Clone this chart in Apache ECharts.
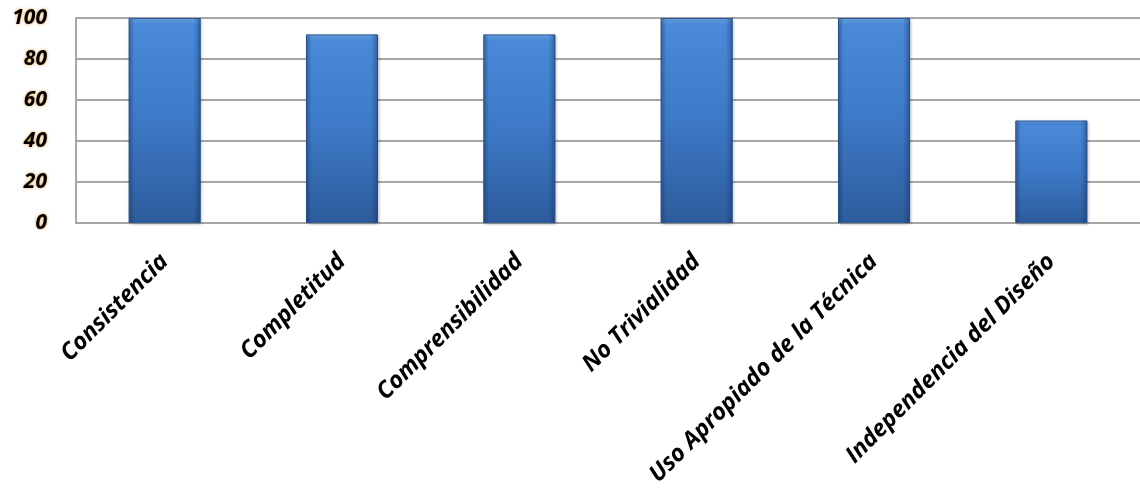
<!DOCTYPE html>
<html>
<head>
<meta charset="utf-8">
<script src="https://cdn.jsdelivr.net/npm/echarts@6/dist/echarts.min.js"></script>
<style>
html,body{margin:0;padding:0;background:#fff;}
#chart{width:1140px;height:490px;}
</style>
</head>
<body>
<div id="chart"></div>
<script>
const categories = ["Consistencia", "Completitud", "Comprensibilidad", "No Trivialidad", "Uso Apropiado de la Técnica", "Independencia del Diseño"];
const values = [100, 92, 92, 100, 100, 50];
const yTicks = { min: 0, max: 100, interval: 20 };

const chart = echarts.init(document.getElementById('chart'));
const lg = (x, y, x2, y2, stops) => new echarts.graphic.LinearGradient(x, y, x2, y2, stops);

chart.setOption({
  animation: false,
  grid: { left: 76, right: -4, top: 18, bottom: 267, containLabel: false },
  xAxis: {
    type: 'category',
    data: categories,
    axisLine: { show: true, lineStyle: { color: '#a6a6a6', width: 2 } },
    axisTick: { show: false },
    axisLabel: {
      rotate: 45,
      interval: 0,
      margin: 35,
      color: '#000',
      fontFamily: 'Open Sans',
      fontStyle: 'italic',
      fontWeight: 'bold',
      fontSize: 23.5
    }
  },
  yAxis: {
    type: 'value',
    min: yTicks.min, max: yTicks.max, interval: yTicks.interval,
    axisLine: { show: true, lineStyle: { color: '#a6a6a6', width: 2 } },
    axisTick: { show: false },
    splitLine: { show: true, lineStyle: { color: '#a6a6a6', width: 2 } },
    axisLabel: {
      margin: 29,
      color: '#000',
      fontFamily: 'Open Sans',
      fontStyle: 'italic',
      fontWeight: 'bold',
      fontSize: 21,
      textShadowColor: 'rgba(220,140,30,0.9)',
      textShadowBlur: 3
    }
  },
  series: [
    {
      type: 'bar',
      data: values,
      barWidth: 72,
      itemStyle: {
        color: lg(0, 0, 0, 1, [
          { offset: 0, color: '#6fa8ea' },
          { offset: 0.03, color: '#4a8ad8' },
          { offset: 0.5, color: '#3d79c6' },
          { offset: 1, color: '#2d5c9c' }
        ]),
        borderColor: '#2f5f9f',
        borderWidth: 1,
        shadowColor: 'rgba(0,0,0,0.25)',
        shadowBlur: 3,
        shadowOffsetX: 1,
        shadowOffsetY: 1
      }
    },
    {
      type: 'bar',
      data: values,
      barWidth: 72,
      barGap: '-100%',
      silent: true,
      itemStyle: {
        color: lg(0, 0, 1, 0, [
          { offset: 0, color: 'rgba(20,50,100,0.35)' },
          { offset: 0.08, color: 'rgba(20,50,100,0.0)' },
          { offset: 0.9, color: 'rgba(20,50,100,0.0)' },
          { offset: 1, color: 'rgba(20,50,100,0.45)' }
        ])
      }
    }
  ]
});
</script>
</body>
</html>
